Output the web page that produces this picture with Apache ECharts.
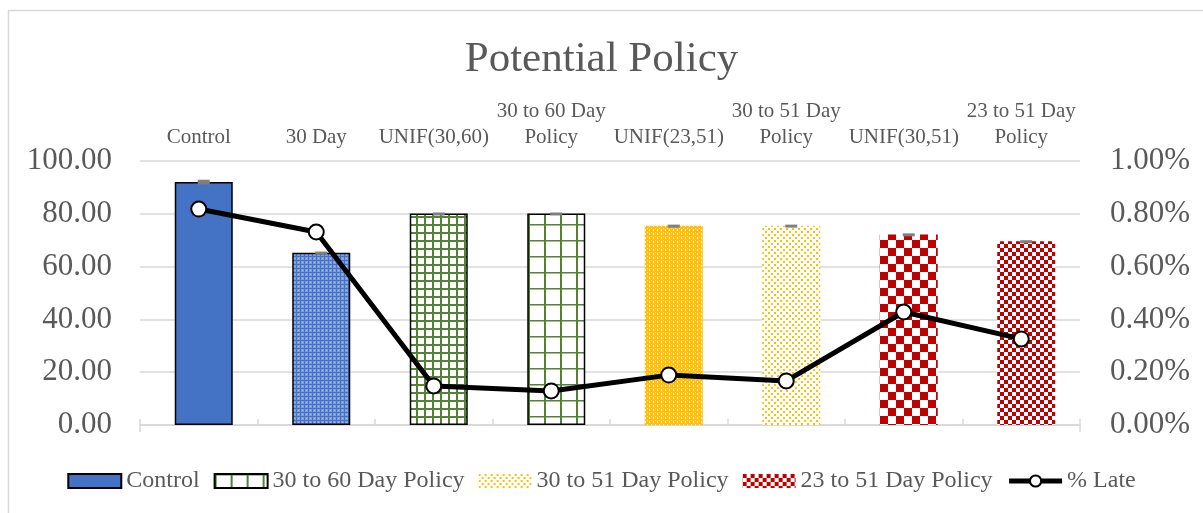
<!DOCTYPE html>
<html><head><meta charset="utf-8">
<script src="https://cdn.jsdelivr.net/npm/echarts@6/dist/echarts.min.js"></script>
<style>html,body{margin:0;padding:0;background:#fff}#c{width:1203px;height:513px}</style>
</head><body><div id="c"></div>
<script>
// ---- data ----
const categories = ['Control', '30 Day', 'UNIF(30,60)', '30 to 60 Day\nPolicy', 'UNIF(23,51)', '30 to 51 Day\nPolicy', 'UNIF(30,51)', '23 to 51 Day\nPolicy'];
const barValues = [92.0, 65.2, 80.1, 80.1, 75.5, 75.5, 72.2, 69.6];
const barErrors = [0.9, 0.5, 0.4, 0.4, 0.4, 0.4, 0.4, 0.4];
const lateValues = [0.818, 0.731, 0.148, 0.129, 0.189, 0.167, 0.428, 0.326];
const barSeriesNames = ['Control', '30 to 60 Day Policy', '30 to 51 Day Policy', '23 to 51 Day Policy'];
const barGroup = [0, 0, 1, 1, 2, 2, 3, 3];
const lineName = '% Late';
const leftTicks = [0, 20, 40, 60, 80, 100];
const rightTicks = [0, 0.2, 0.4, 0.6, 0.8, 1.0];

// ---- patterns ----
function pat(w, h, draw) {
  const c = document.createElement('canvas'); c.width = w; c.height = h;
  const x = c.getContext('2d'); draw(x, w, h);
  return { image: c, repeat: 'repeat' };
}
const BLUE = '#4472C4', GREEN = '#548235', GOLD = '#FFC000', RED = '#C00000';
const pBlueFine = pat(4, 4, (x) => { x.fillStyle = '#7d9ce0'; x.fillRect(0, 0, 4, 4); x.fillStyle = BLUE; x.fillRect(0, 0, 4, 1); x.fillRect(0, 0, 1, 4); x.fillStyle = '#a9bfea'; x.fillRect(2, 2, 1, 1); });
const pGreenFine = pat(8, 8, (x) => { x.fillStyle = '#fff'; x.fillRect(0, 0, 8, 8); x.fillStyle = GREEN; x.fillRect(0, 0, 8, 2); x.fillRect(0, 0, 2, 8); });
const pGreenWide = pat(16, 16, (x) => { x.fillStyle = '#fff'; x.fillRect(0, 0, 16, 16); x.fillStyle = GREEN; x.fillRect(0, 0, 16, 1.5); x.fillRect(0, 0, 2, 16); });
const pGoldDense = pat(4, 4, (x) => { x.fillStyle = GOLD; x.fillRect(0, 0, 4, 4); x.fillStyle = '#fff'; x.fillRect(1, 1, 1, 2); x.fillStyle = '#ffe9a6'; x.fillRect(3, 0, 1, 1); });
const pGoldSparse = pat(6, 6, (x) => { x.fillStyle = '#fff'; x.fillRect(0, 0, 6, 6); x.fillStyle = GOLD; x.fillRect(0, 0, 2, 2); x.fillRect(3, 3, 2, 2); });
const pRedBig = pat(16, 16, (x) => { x.fillStyle = '#fff'; x.fillRect(0, 0, 16, 16); x.fillStyle = RED; x.fillRect(0, 0, 8, 8); x.fillRect(8, 8, 8, 8); });
const pRedSmall = pat(8, 8, (x) => { x.fillStyle = '#fff'; x.fillRect(0, 0, 8, 8); x.fillStyle = RED; x.fillRect(0, 0, 4, 4); x.fillRect(4, 4, 4, 4); });

const seriesStyle = [
  { color: BLUE, borderColor: '#000', borderWidth: 1.5 },
  { color: pGreenWide, borderColor: '#000', borderWidth: 1.5 },
  { color: pGoldSparse, borderWidth: 0 },
  { color: pRedSmall, borderWidth: 0 }
];
const itemStyleOverride = [null, { color: pBlueFine, borderColor: '#000', borderWidth: 1.5 }, { color: pGreenFine, borderColor: '#000', borderWidth: 1.5 }, null, { color: pGoldDense, borderWidth: 0 }, null, { color: pRedBig, borderWidth: 0 }, null];

const FONT = 'Liberation Serif';
const TXT = '#595959';
const GRIDC = '#d9d9d9';
const PADW = 10, BARW = 58;

const series = [];
series.push({ name: '_pad', type: 'bar', barWidth: PADW, barGap: '0%', data: categories.map(() => null), silent: true });
barSeriesNames.forEach((name, g) => {
  series.push({
    name, type: 'bar', stack: 'bars', barWidth: BARW, barGap: '0%', z: 2,
    itemStyle: seriesStyle[g],
    data: barValues.map((v, i) => barGroup[i] === g ? (itemStyleOverride[i] ? { value: v, itemStyle: itemStyleOverride[i] } : v) : null)
  });
});
series.push({
  name: '_err', type: 'custom', z: 3, silent: true,
  data: barValues.map((v, i) => [i, v, barErrors[i]]),
  encode: { x: 0, y: 1 },
  renderItem: (params, api) => {
    const i = api.value(0), v = api.value(1), e = api.value(2);
    const t = api.coord([i, v + e]), b = api.coord([i, v - e]);
    return { type: 'rect', shape: { x: t[0] + PADW / 2 - 6, y: t[1], width: 12, height: Math.max(b[1] - t[1], 3) }, style: { fill: '#7f7f7f' } };
  }
});
series.push({
  name: lineName, type: 'line', yAxisIndex: 1, xAxisIndex: 0, z: 5,
  data: lateValues, symbol: 'circle', symbolSize: 15,
  lineStyle: { color: '#000', width: 5 },
  itemStyle: { color: '#fff', borderColor: '#000', borderWidth: 2 }
});

const chart = echarts.init(document.getElementById('c'));
chart.setOption({
  animation: false,
  backgroundColor: '#fff',
  graphic: [{ type: 'rect', shape: { x: 8.5, y: 10.5, width: 1300, height: 600 }, style: { fill: 'none', stroke: GRIDC, lineWidth: 1.5 }, silent: true, z: -10 }],
  title: { text: 'Potential Policy', left: 'center', top: 33, textStyle: { fontFamily: FONT, fontSize: 43, fontWeight: 'normal', color: TXT } },
  grid: { left: 140, right: 123, top: 161, bottom: 88 },
  legend: {
    data: [...barSeriesNames.map((n) => ({ name: n, icon: 'rect' })), { name: lineName, lineStyle: { width: 5 } }],
    bottom: 15, left: 'center',
    itemWidth: 53, itemHeight: 14, itemGap: 14,
    textStyle: { fontFamily: FONT, fontSize: 24, color: TXT }
  },
  xAxis: [
    { type: 'category', data: categories, position: 'top',
      axisLine: { show: true, lineStyle: { color: GRIDC, width: 1.5 } },
      axisTick: { show: true, length: 6, lineStyle: { color: GRIDC, width: 1.5 } },
      axisLabel: { fontFamily: FONT, fontSize: 21, color: TXT, lineHeight: 26, margin: 11, interval: 0 } },
    { type: 'category', data: categories, position: 'bottom',
      axisLine: { show: true, lineStyle: { color: GRIDC, width: 1.5 } },
      axisTick: { show: true, length: 7, interval: (i) => i === 0, lineStyle: { color: GRIDC, width: 1.5 } },
      axisLabel: { show: false } }
  ],
  yAxis: [
    { type: 'value', min: leftTicks[0], max: leftTicks[leftTicks.length - 1], interval: leftTicks[1] - leftTicks[0],
      axisLine: { show: false }, axisTick: { show: false },
      splitLine: { lineStyle: { color: GRIDC, width: 1.5 } },
      axisLabel: { formatter: (v) => v.toFixed(2), fontFamily: FONT, fontSize: 31, color: TXT, margin: 28 } },
    { type: 'value', min: rightTicks[0], max: rightTicks[rightTicks.length - 1], interval: 0.2,
      axisLine: { show: false }, axisTick: { show: false }, splitLine: { show: false },
      axisLabel: { formatter: (v) => v.toFixed(2) + '%', fontFamily: FONT, fontSize: 31, color: TXT, margin: 30 } }
  ],
  series
});
</script></body></html>
